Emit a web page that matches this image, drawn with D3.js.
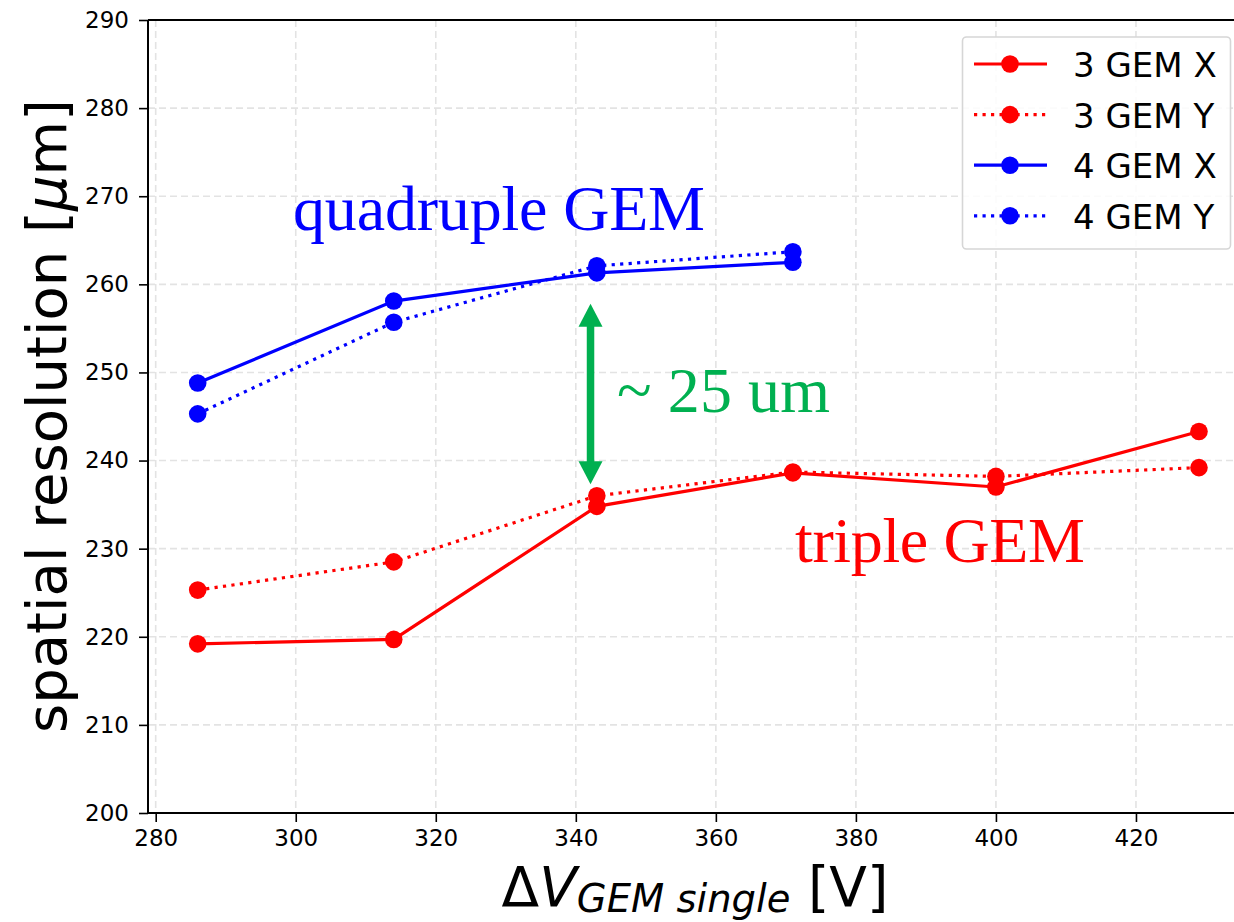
<!DOCTYPE html>
<html>
<head>
<meta charset="utf-8">
<script src="https://cdn.jsdelivr.net/npm/d3@7"></script>
<style>
  html, body { margin: 0; padding: 0; background: #fff; }
  svg { display: block; }
</style>
</head>
<body>
<svg id="chart" width="1234" height="922"></svg>
<script>
// Applied voltage per GEM foil [V]
const voltage3 = [286, 314, 343, 371, 400, 429];
const voltage4 = [286, 314, 343, 371];

// Spatial resolution [um]
const gem3X = [219.2, 219.7, 234.8, 238.6, 237.0, 243.3];
const gem3Y = [225.3, 228.5, 236.0, 238.7, 238.2, 239.2];
const gem4X = [248.8, 258.1, 261.3, 262.5];
const gem4Y = [245.3, 255.7, 262.1, 263.7];

const seriesNames = ["3 GEM X", "3 GEM Y", "4 GEM X", "4 GEM Y"];
const xTicks = [280, 300, 320, 340, 360, 380, 400, 420];
const yTicks = [200, 210, 220, 230, 240, 250, 260, 270, 280, 290];

// Gap annotation between the two detector types
const gapX = 342.1;
const gapTop = 257.8;
const gapBottom = 237.3;

const series = [
  { name: seriesNames[0], xs: voltage3, ys: gem3X, color: "#ff0000", dotted: false },
  { name: seriesNames[1], xs: voltage3, ys: gem3Y, color: "#ff0000", dotted: true },
  { name: seriesNames[2], xs: voltage4, ys: gem4X, color: "#0000ff", dotted: false },
  { name: seriesNames[3], xs: voltage4, ys: gem4Y, color: "#0000ff", dotted: true }
];

const svg = d3.select("#chart");
const mLeft = 148, mTop = 20, mRight = 1262, mBottom = 813;

const x = d3.scaleLinear().domain([278.9, 438]).range([mLeft, mRight]);
const y = d3.scaleLinear().domain([200, 290]).range([mBottom, mTop]);

const plot = svg.append("g");

// grid
plot.append("g").selectAll("line").data(xTicks).join("line")
  .attr("x1", d => x(d)).attr("x2", d => x(d))
  .attr("y1", mTop).attr("y2", mBottom)
  .attr("stroke", "#e3e3e3").attr("stroke-width", 1.6)
  .attr("stroke-dasharray", "7,4");
plot.append("g").selectAll("line").data(yTicks).join("line")
  .attr("x1", mLeft).attr("x2", mRight)
  .attr("y1", d => y(d)).attr("y2", d => y(d))
  .attr("stroke", "#e3e3e3").attr("stroke-width", 1.6)
  .attr("stroke-dasharray", "7,4");

// axes
const xAxis = d3.axisBottom(x).tickValues(xTicks).tickSize(9).tickPadding(8).tickFormat(d3.format("d"));
const yAxis = d3.axisLeft(y).tickValues(yTicks).tickSize(9).tickPadding(10).tickFormat(d3.format("d"));

const gx = svg.append("g").attr("transform", `translate(0,${mBottom})`).call(xAxis);
const gy = svg.append("g").attr("transform", `translate(${mLeft},0)`).call(yAxis);
[gx, gy].forEach(g => {
  g.select(".domain").remove();
  g.selectAll(".tick line").attr("stroke", "#000").attr("stroke-width", 1.6);
  g.selectAll(".tick text").attr("fill", "#000")
    .style("font-family", "DejaVu Sans").style("font-size", "23px");
});

// spines (left, bottom, top)
svg.append("line").attr("x1", mLeft).attr("x2", mLeft).attr("y1", mTop).attr("y2", mBottom)
  .attr("stroke", "#000").attr("stroke-width", 2);
svg.append("line").attr("x1", mLeft).attr("x2", 1234).attr("y1", mBottom).attr("y2", mBottom)
  .attr("stroke", "#000").attr("stroke-width", 2);
svg.append("line").attr("x1", mLeft).attr("x2", 1234).attr("y1", mTop).attr("y2", mTop)
  .attr("stroke", "#000").attr("stroke-width", 2);

// series lines and markers
const line = d3.line().x(d => x(d[0])).y(d => y(d[1]));
series.forEach(s => {
  const pts = s.xs.map((v, i) => [v, s.ys[i]]);
  plot.append("path").datum(pts)
    .attr("d", line)
    .attr("fill", "none")
    .attr("stroke", s.color)
    .attr("stroke-width", 3.2)
    .attr("stroke-dasharray", s.dotted ? "3.2,5.3" : null);
  plot.append("g").selectAll("circle").data(pts).join("circle")
    .attr("cx", d => x(d[0])).attr("cy", d => y(d[1]))
    .attr("r", 8.8).attr("fill", s.color);
});

// gap arrow
const green = "#00b050";
const ax = x(gapX), ay1 = y(gapTop), ay2 = y(gapBottom);
const head = 23, hw = 12;
svg.append("line").attr("x1", ax).attr("x2", ax)
  .attr("y1", ay1 + head - 2).attr("y2", ay2 - head + 2)
  .attr("stroke", green).attr("stroke-width", 7.5);
svg.append("path")
  .attr("d", `M${ax},${ay1} L${ax - hw},${ay1 + head} L${ax + hw},${ay1 + head} Z`)
  .attr("fill", green);
svg.append("path")
  .attr("d", `M${ax},${ay2} L${ax - hw},${ay2 - head} L${ax + hw},${ay2 - head} Z`)
  .attr("fill", green);

// annotations
const serif = "'Liberation Serif', 'DejaVu Serif', serif";
svg.append("text").attr("x", 617).attr("y", 412)
  .attr("textLength", 213)
  .style("font-family", serif).style("font-size", "64px")
  .attr("fill", green).text("~ 25 um");
svg.append("text").attr("x", 293).attr("y", 230)
  .attr("textLength", 412)
  .style("font-family", serif).style("font-size", "64px")
  .attr("fill", "#0000ff").text("quadruple GEM");
svg.append("text").attr("x", 795).attr("y", 562)
  .attr("textLength", 290)
  .style("font-family", serif).style("font-size", "64px")
  .attr("fill", "#ff0000").text("triple GEM");

// legend
const lg = svg.append("g");
lg.append("rect").attr("x", 962.5).attr("y", 37).attr("width", 268).attr("height", 212)
  .attr("rx", 4).attr("fill", "#fff").attr("fill-opacity", 0.85)
  .attr("stroke", "#d6d6d6").attr("stroke-width", 1.6);
series.forEach((s, i) => {
  const ly = 64 + i * 50.6;
  lg.append("line").attr("x1", 974).attr("x2", 1047).attr("y1", ly).attr("y2", ly)
    .attr("stroke", s.color).attr("stroke-width", 3.2)
    .attr("stroke-dasharray", s.dotted ? "3.2,5.3" : null);
  lg.append("circle").attr("cx", 1010).attr("cy", ly).attr("r", 8.8).attr("fill", s.color);
  lg.append("text").attr("x", 1073).attr("y", ly + 13)
    .style("font-family", "DejaVu Sans").style("font-size", "34px")
    .attr("fill", "#000").text(s.name);
});

// axis titles
svg.append("text")
  .attr("transform", "translate(66,416) rotate(-90)")
  .attr("text-anchor", "middle")
  .style("font-family", "DejaVu Sans").style("font-size", "56px")
  .attr("fill", "#000")
  .html("spatial resolution [<tspan font-style='italic'>μ</tspan>m]");

const xl = svg.append("text")
  .attr("x", 695).attr("y", 906)
  .attr("text-anchor", "middle")
  .style("font-family", "DejaVu Sans").style("font-size", "55px")
  .attr("fill", "#000");
xl.append("tspan").text("Δ");
xl.append("tspan").attr("font-style", "italic").text("V");
xl.append("tspan").attr("font-style", "italic").attr("font-size", "38.5px").attr("dy", 6).text("GEM single");
xl.append("tspan").attr("dy", -6).text(" [V]");
</script>
</body>
</html>
